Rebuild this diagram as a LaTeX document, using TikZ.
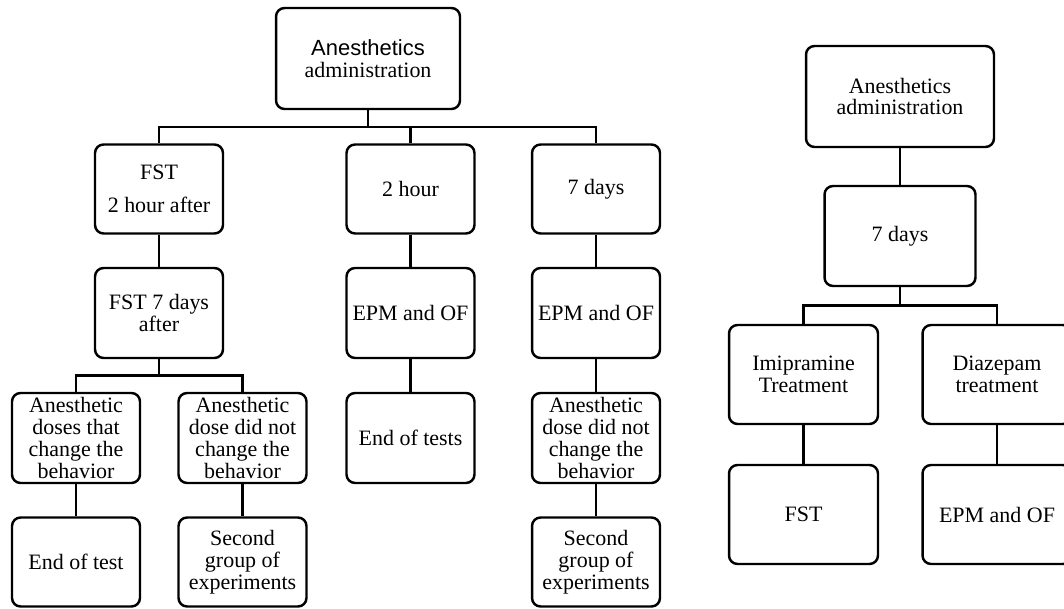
\documentclass[tikz,border=0pt]{standalone}
\usepackage{fontspec}
\setmainfont{Liberation Serif}
\newfontfamily\arialfont{Liberation Sans}
\usetikzlibrary{calc, positioning}

\begin{document}
\begin{tikzpicture}[
			x=0.02cm, y=-0.02cm,
			box/.style={draw, line width=1.4pt, rounded corners=0.17cm, minimum width=2.56cm,
				minimum height=1.78cm, align=center, inner sep=1pt,
				font=\fontsize{12.5}{12.5}\selectfont},
			wide/.style={minimum width=2.98cm, minimum height=1.98cm},
			link/.style={line width=1.3pt},
			elbow/.style={to path={|- ($(\tikztostart)!0.5!(\tikztotarget)$) -| (\tikztotarget)}},
			]
			\useasboundingbox (0,0) rectangle (1064,608);
			% first tree
			\node[box, minimum width=3.68cm, minimum height=2.02cm] (anL) at (368,58.5) {{\arialfont Anesthetics}\\administration};
			\node[box] (fst2) at (159,189) {FST\\[6pt]2 hour after};
			\node[box] (h2) at (410.5,189) {2 hour};
			\node[box] (d7) at (596,189) {7 days};
			\node[box, minimum height=1.8cm] (fst7) at (159,313) {FST 7 days\\after};
			\node[box, minimum height=1.8cm] (epmA) at (410.5,313) {EPM and OF};
			\node[box, minimum height=1.8cm] (epmB) at (596,313) {EPM and OF};
			\node[box, minimum height=1.8cm] (chg) at (76,438) {Anesthetic\\doses that\\change the\\behavior};
			\node[box, minimum height=1.8cm] (nochgA) at (242.5,438) {Anesthetic\\dose did not\\change the\\behavior};
			\node[box, minimum height=1.8cm] (endA) at (410.5,438) {End of tests};
			\node[box, minimum height=1.8cm] (nochgB) at (596,438) {Anesthetic\\dose did not\\change the\\behavior};
			\node[box] (endB) at (76,562) {End of test};
			\node[box] (secA) at (242.5,562) {Second\\group of\\experiments};
			\node[box] (secB) at (596,562) {Second\\group of\\experiments};
			% second tree
			\node[box, minimum width=3.76cm, minimum height=2.02cm] (anR) at (900,96.5) {Anesthetics\\administration};
			\node[box, minimum width=3.02cm, minimum height=2cm] (d7R) at (900,236) {7 days};
			\node[box, wide] (imi) at (803.5,374.5) {Imipramine\\Treatment};
			\node[box, wide] (dia) at (997,374.5) {Diazepam\\treatment};
			\node[box, wide] (fstR) at (803.5,514.5) {FST};
			\node[box, wide] (epmR) at (997,514.5) {EPM and OF};
			\foreach \a/\b in {anL/fst2, anL/h2, anL/d7, fst2/fst7, h2/epmA, d7/epmB,
				fst7/chg, fst7/nochgA, epmA/endA, epmB/nochgB, chg/endB, nochgA/secA,
				nochgB/secB, anR/d7R, d7R/imi, d7R/dia, imi/fstR, dia/epmR}
			\draw[link] (\a.south) to[elbow] (\b.north);
	\end{tikzpicture}
\end{document}
